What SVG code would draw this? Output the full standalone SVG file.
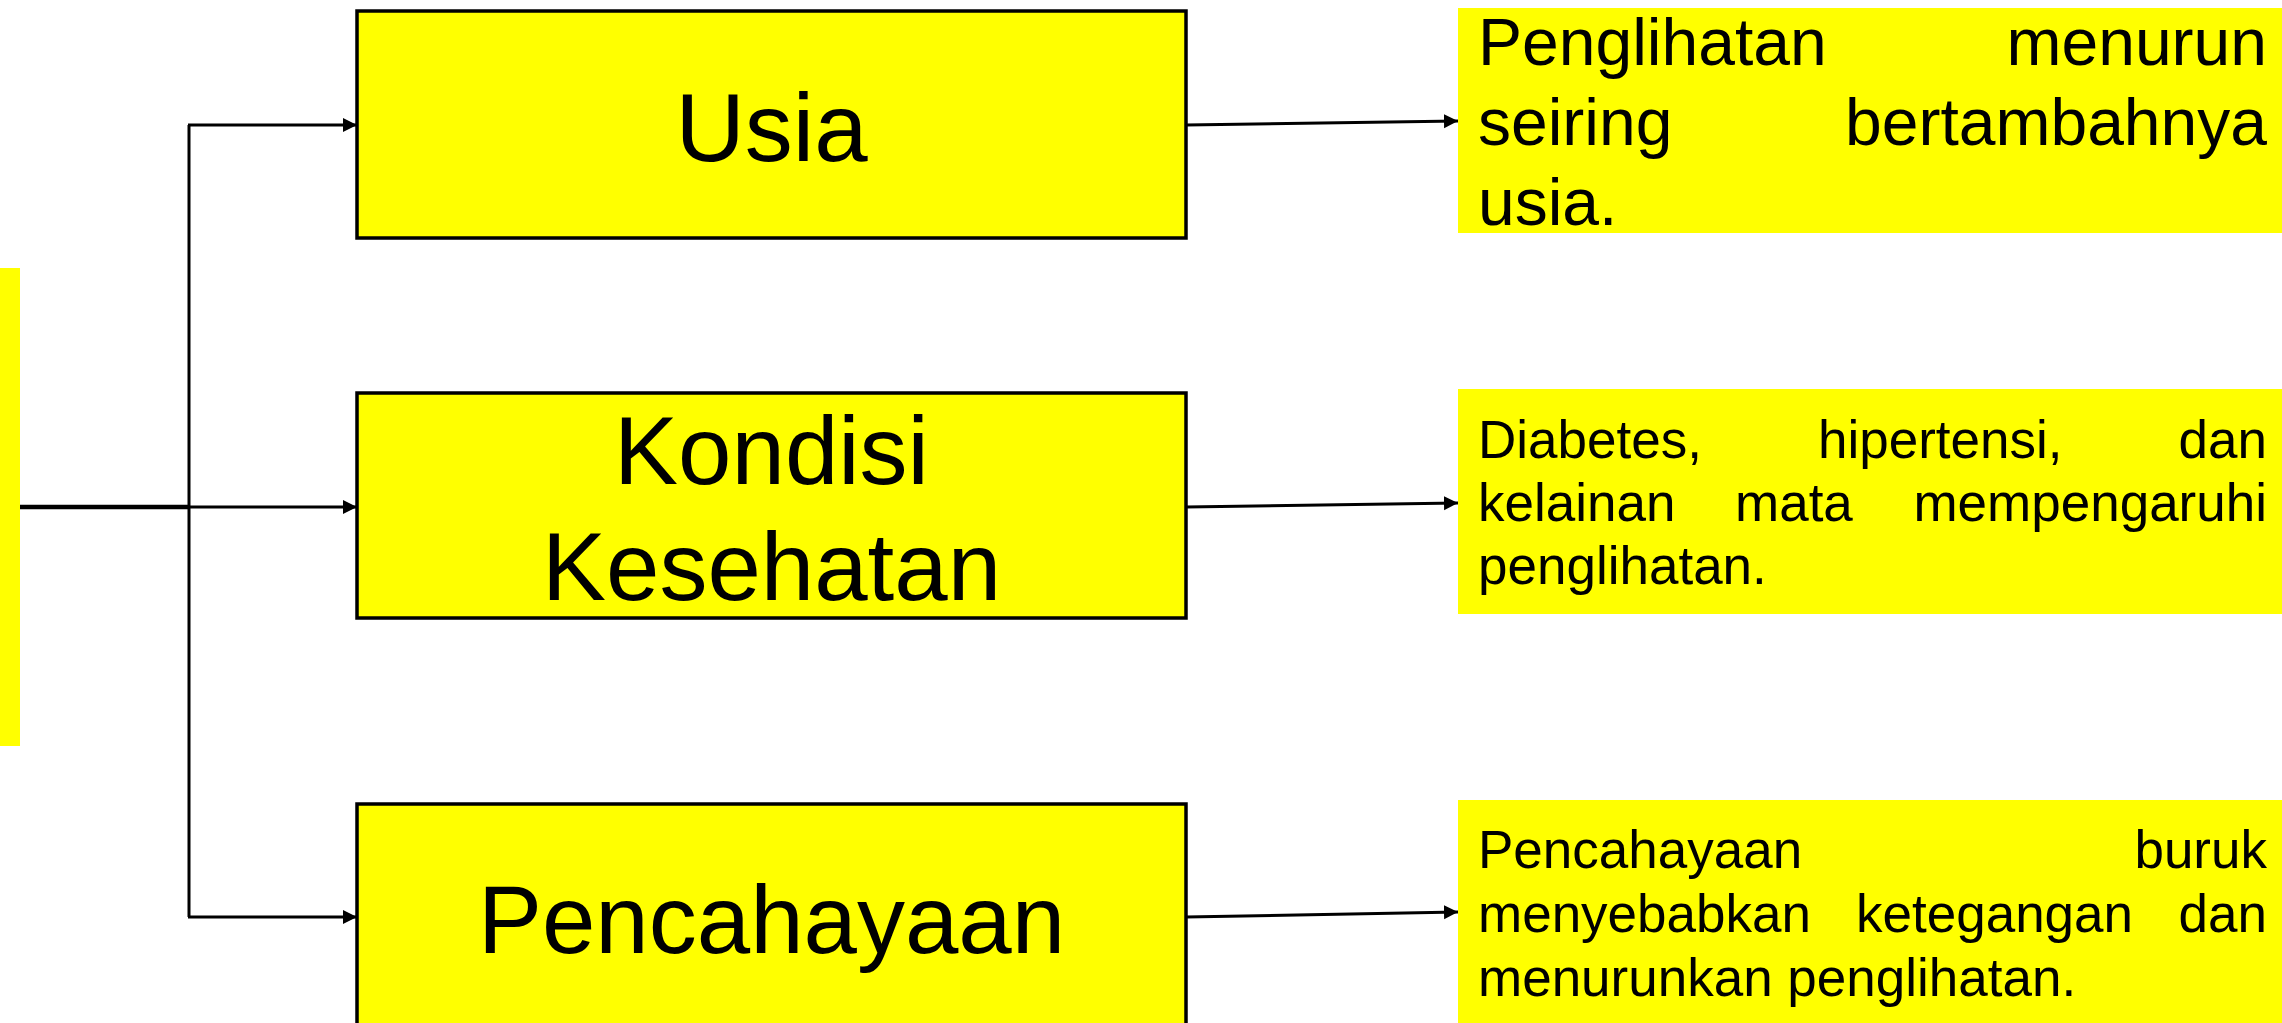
<svg xmlns="http://www.w3.org/2000/svg" width="2282" height="1023" viewBox="0 0 2282 1023">
<style>
.node{fill:#FFFF00;stroke:#000;stroke-width:3.5}
.note{fill:#FFFF00;stroke:none}
.t{font-family:"Liberation Sans",Arial,sans-serif;fill:#000}
.big{font-size:96px;text-anchor:middle}
.n1{font-size:66px}
.n2{font-size:53px}
.c{stroke:#000;stroke-width:3;fill:none}
.end{text-anchor:end}
</style>
<defs>
<marker id="arr" markerUnits="userSpaceOnUse" markerWidth="16" markerHeight="16" refX="14" refY="7" orient="auto">
<path d="M0,0 L14,7 L0,14 Z" fill="#000"/>
</marker>
</defs>
<rect width="2282" height="1023" fill="#fff"/>
<g id="source"><rect x="0" y="268" width="20" height="478" class="note"/></g>
<g id="connectors">
<line x1="20" y1="507" x2="189" y2="507" stroke="#000" stroke-width="4.5"/>
<line x1="189" y1="125" x2="189" y2="917" class="c"/>
<line x1="188" y1="125" x2="357" y2="125" class="c" marker-end="url(#arr)"/>
<line x1="189" y1="507" x2="357" y2="507" class="c" marker-end="url(#arr)"/>
<line x1="188" y1="917" x2="357" y2="917" class="c" marker-end="url(#arr)"/>
<line x1="1186" y1="125" x2="1458" y2="121" class="c" marker-end="url(#arr)"/>
<line x1="1186" y1="507" x2="1458" y2="503" class="c" marker-end="url(#arr)"/>
<line x1="1186" y1="917" x2="1458" y2="912" class="c" marker-end="url(#arr)"/>
</g>
<g id="usia">
<rect x="357" y="11" width="829" height="227" class="node"/>
<text x="771.5" y="161" class="t big">Usia</text>
</g>
<g id="kondisi">
<rect x="357" y="393" width="829" height="225" class="node"/>
<text x="771.5" y="484" class="t big">Kondisi</text>
<text x="771.5" y="600" class="t big">Kesehatan</text>
</g>
<g id="pencahayaan">
<rect x="357" y="804" width="829" height="240" class="node"/>
<text x="771.5" y="953" class="t big">Pencahayaan</text>
</g>
<g id="note-usia">
<rect x="1458" y="8" width="824" height="225" class="note"/>
<text class="t n1"><tspan x="1478" y="65">Penglihatan</tspan><tspan x="2267" y="65" class="end">menurun</tspan></text>
<text class="t n1"><tspan x="1478" y="145">seiring</tspan><tspan x="2267" y="145" class="end">bertambahnya</tspan></text>
<text class="t n1" x="1478" y="225">usia.</text>
</g>
<g id="note-kondisi">
<rect x="1458" y="389" width="824" height="225" class="note"/>
<text class="t n2"><tspan x="1478" y="458">Diabetes,</tspan><tspan x="1818" y="458">hipertensi,</tspan><tspan x="2267" y="458" class="end">dan</tspan></text>
<text class="t n2"><tspan x="1478" y="521">kelainan</tspan><tspan x="1735" y="521">mata</tspan><tspan x="2267" y="521" class="end">mempengaruhi</tspan></text>
<text class="t n2" x="1478" y="584">penglihatan.</text>
</g>
<g id="note-pencahayaan">
<rect x="1458" y="800" width="824" height="223" class="note"/>
<text class="t n2"><tspan x="1478" y="868">Pencahayaan</tspan><tspan x="2267" y="868" class="end">buruk</tspan></text>
<text class="t n2"><tspan x="1478" y="932">menyebabkan</tspan><tspan x="1856" y="932">ketegangan</tspan><tspan x="2267" y="932" class="end">dan</tspan></text>
<text class="t n2" x="1478" y="996">menurunkan penglihatan.</text>
</g>
</svg>
